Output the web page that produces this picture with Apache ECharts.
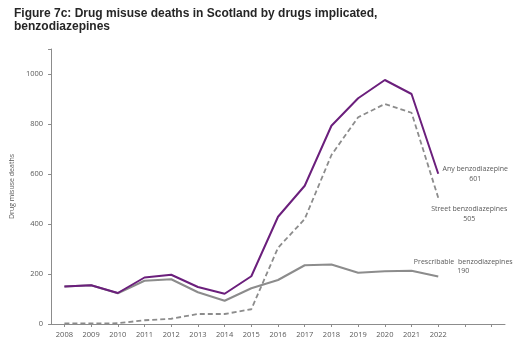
<!DOCTYPE html>
<html>
<head>
<meta charset="utf-8">
<script src="https://cdn.jsdelivr.net/npm/echarts@6/dist/echarts.min.js"></script>
<style>
  html, body { margin: 0; padding: 0; background: #fff; }
  #chart { width: 518px; height: 348px; }
</style>
</head>
<body>
<div id="chart"></div>
<script>
// Years on the axis (two trailing empty slots keep the axis running past 2022)
const years = ['2008','2009','2010','2011','2012','2013','2014','2015','2016','2017','2018','2019','2020','2021','2022','2023','2024'];
const yTicks = [0, 200, 400, 600, 800, 1000];

// Deaths where each drug group was implicated
const anyBenzo = [150, 155, 124, 186, 197, 148, 121, 191, 429, 553, 793, 903, 976, 920, 601];
const streetBenzo = [2, 2, 3, 15, 21, 40, 40, 59, 305, 420, 676, 827, 880, 845, 505];
const prescribableBenzo = [150, 155, 123, 173, 179, 127, 93, 143, 176, 235, 238, 205, 211, 213, 190];

const seriesNames = ['Any benzodiazepine', 'Street benzodiazepines', 'Prescribable  benzodiazepines'];

const textColor = '#595959';
const font = 'Open Sans';

// Name and latest value printed beside the end of each line
function endLabel(offset) {
  return {
    show: true,
    formatter: p => p.seriesName + '\n' + p.value,
    align: 'center',
    verticalAlign: 'middle',
    offset: offset,
    distance: 0,
    color: textColor,
    fontFamily: font,
    fontSize: 7,
    lineHeight: 9.5
  };
}

const chart = echarts.init(document.getElementById('chart'));
chart.setOption({
  animation: false,
  title: {
    text: 'Figure 7c: Drug misuse deaths in Scotland by drugs implicated,\nbenzodiazepines',
    left: 9,
    top: 2,
    textStyle: {
      fontFamily: 'Liberation Sans',
      fontWeight: 'bold',
      fontSize: 12,
      lineHeight: 13,
      color: '#262626'
    }
  },
  grid: { left: 45, right: 13, top: 49, bottom: 24 },
  xAxis: {
    type: 'category',
    data: years,
    boundaryGap: true,
    axisLine: { lineStyle: { color: '#8c8c8c', width: 1 } },
    axisTick: { show: true, alignWithLabel: true, length: 3, lineStyle: { color: '#8c8c8c' } },
    axisLabel: {
      color: textColor,
      fontFamily: font,
      fontSize: 7.5,
      margin: 7,
      interval: 0,
      formatter: v => (Number(v) <= 2022 ? v : '')
    }
  },
  yAxis: {
    type: 'value',
    min: 0,
    max: 1100,
    interval: 200,
    name: 'Drug misuse deaths',
    nameLocation: 'middle',
    nameGap: 20,
    nameTextStyle: { color: textColor, fontFamily: font, fontSize: 7 },
    splitLine: { show: false },
    axisLine: { show: true, lineStyle: { color: '#8c8c8c', width: 1 } },
    axisTick: { show: true, length: 3, lineStyle: { color: '#8c8c8c' } },
    axisLabel: {
      color: textColor,
      fontFamily: font,
      fontSize: 7.5,
      margin: 8,
      formatter: v => (yTicks.includes(v) ? String(v) : '')
    }
  },
  series: [
    {
      name: seriesNames[0],
      type: 'line',
      data: anyBenzo,
      symbol: 'none',
      z: 4,
      lineStyle: { color: '#6b1f7c', width: 2 },
      endLabel: endLabel([37, 0])
    },
    {
      name: seriesNames[1],
      type: 'line',
      data: streetBenzo,
      symbol: 'none',
      z: 3,
      lineStyle: { color: '#8c8c8c', width: 1.8, type: [5, 3] },
      endLabel: endLabel([31, 16])
    },
    {
      name: seriesNames[2],
      type: 'line',
      data: prescribableBenzo,
      symbol: 'none',
      z: 2,
      lineStyle: { color: '#8c8c8c', width: 2 },
      endLabel: endLabel([25, -10])
    }
  ]
});
</script>
</body>
</html>
